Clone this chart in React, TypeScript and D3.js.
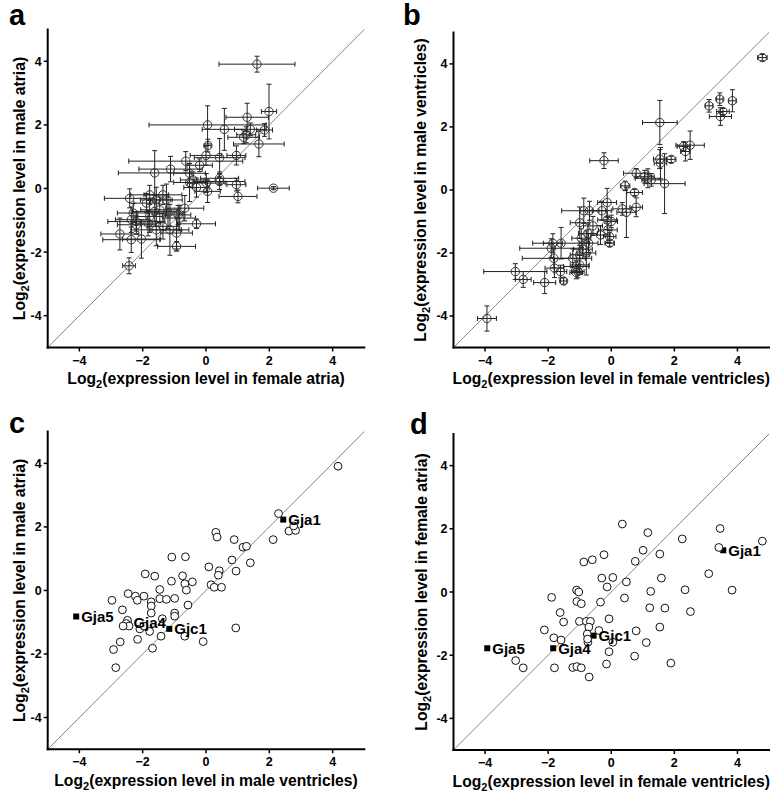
import React from "react";
import * as d3 from "d3";

// ---------- Panel a: female atria (x) vs male atria (y) ----------
const aX = [1.61, 1.99, 1.30, 0.58, 0.05, 1.40, 1.85, 1.19, 1.27, 1.67, 0.06, 0.96, 0.43, 0.0, -0.64, -1.12, -1.62, -0.2, -0.52, -0.41, -0.52, -0.3, 0.01, 0.43, 0.43, 0.96, 0.05, 1.01, 2.13, -2.41, -1.78, -1.57, -1.36, -1.25, -1.88, -1.46, -1.62, -0.67, -1.2, -2.3, -1.78, -0.88, -2.36, -2.2, -1.83, -1.36, -0.3, -1.14, -2.72, -2.36, -2.04, -0.93, -0.93, -2.43, -1.57, -0.83, -2.2];
const aY = [3.91, 2.42, 2.24, 1.86, 2.0, 1.86, 1.84, 1.61, 1.69, 1.40, 1.35, 1.04, 0.97, 1.04, 0.86, 0.61, 0.49, 0.73, 0.48, 0.27, 0.19, 0.03, 0.17, 0.32, 0.22, 0.12, -0.09, -0.25, 0.01, -0.31, -0.2, -0.36, -0.2, -0.36, -0.46, -0.67, -0.72, -0.62, -0.77, -0.77, -0.88, -0.83, -0.98, -1.14, -1.09, -1.19, -1.11, -1.3, -1.43, -1.61, -1.59, -1.4, -1.82, -2.43, -1.3, -0.93, -1.04];
const aXErr = [1.2, 0.24, 0.67, 0.7, 1.85, 0.5, 0.25, 0.5, 0.3, 0.8, 0.1, 0.3, 0.8, 0.5, 1.8, 1.0, 1.15, 0.4, 0.5, 0.4, 0.5, 0.4, 0.6, 0.6, 0.8, 0.3, 0.4, 0.6, 0.5, 0.8, 0.6, 0.5, 0.6, 0.5, 0.4, 0.6, 0.7, 0.6, 0.5, 0.5, 0.4, 0.4, 0.5, 0.6, 0.4, 0.5, 0.6, 0.6, 0.6, 0.9, 0.6, 0.5, 0.6, 0.2, 0.8, 0.5, 0.9];
const aYErr = [0.25, 0.86, 0.44, 0.66, 0.6, 0.2, 0.2, 0.2, 0.25, 0.4, 0.2, 0.3, 0.6, 0.3, 0.3, 0.4, 0.7, 0.2, 0.3, 0.25, 0.6, 0.3, 0.3, 0.2, 0.25, 0.2, 0.35, 0.2, 0.05, 0.3, 0.3, 0.4, 0.3, 0.5, 0.3, 0.4, 0.3, 0.4, 0.5, 0.3, 0.5, 0.3, 0.4, 0.3, 0.4, 0.4, 0.15, 0.8, 0.5, 0.4, 0.6, 0.5, 0.15, 0.25, 0.5, 0.4, 0.3];

// ---------- Panel b: female ventricles (x) vs male ventricles (y) ----------
const bX = [4.79, 3.44, 3.1, 3.84, 3.54, 3.46, 1.54, 2.5, 2.29, 2.35, 1.54, 1.9, 1.56, -0.23, 1.06, 1.16, 1.27, 0.79, 1.69, 0.44, 0.74, 0.79, 0.35, 0.48, -0.13, -0.87, -0.69, -0.3, -0.13, 0.0, -1.0, -0.58, -0.11, -0.74, -0.34, -0.05, -0.95, -0.72, -0.05, -1.59, -1.85, -1.9, -0.9, -0.79, -1.0, -1.22, -1.82, -1.0, -1.11, -1.8, -1.61, -1.11, -3.04, -2.79, -2.11, -1.51, -3.94, -1.06];
const bY = [4.2, 2.88, 2.67, 2.83, 2.49, 2.33, 2.14, 1.42, 1.38, 1.22, 0.98, 0.97, 0.85, 0.93, 0.42, 0.37, 0.32, 0.53, 0.2, 0.13, -0.08, -0.55, -0.6, -0.71, -0.4, -0.66, -0.66, -0.66, -0.95, -1.0, -1.04, -1.14, -1.27, -1.38, -1.43, -1.48, -1.53, -1.69, -1.69, -1.69, -1.69, -1.85, -1.88, -2.0, -2.06, -2.17, -2.17, -2.38, -2.43, -2.48, -2.59, -2.62, -2.59, -2.84, -2.94, -2.89, -4.08, -2.59];
const bXErr = [0.15, 0.1, 0.12, 0.12, 0.2, 0.35, 0.55, 0.45, 0.2, 0.15, 0.2, 0.15, 0.2, 0.45, 0.3, 0.4, 0.3, 0.4, 0.65, 0.15, 0.25, 0.2, 0.3, 0.3, 0.3, 0.7, 0.3, 0.3, 0.3, 0.2, 0.3, 0.3, 0.3, 0.3, 0.3, 0.2, 0.3, 0.3, 0.15, 0.9, 0.3, 1.0, 0.3, 0.3, 0.3, 0.6, 1.0, 0.3, 0.4, 0.3, 0.2, 0.2, 1.0, 0.25, 0.35, 0.1, 0.3, 0.2];
const bYErr = [0.1, 0.2, 0.2, 0.35, 0.1, 0.28, 0.7, 0.45, 0.15, 0.3, 0.3, 0.1, 0.5, 0.25, 0.2, 0.3, 0.2, 0.15, 0.95, 0.15, 0.1, 0.3, 0.2, 0.8, 0.45, 0.4, 0.3, 0.3, 0.3, 0.2, 0.5, 0.3, 0.4, 0.3, 0.3, 0.2, 0.3, 0.3, 0.1, 0.5, 0.3, 0.3, 0.3, 0.7, 0.3, 0.3, 0.3, 0.3, 0.2, 0.3, 0.2, 0.2, 0.25, 0.25, 0.35, 0.1, 0.4, 0.2];

// ---------- Panel c: male ventricles (x) vs male atria (y) ----------
const cX = [4.17, 2.29, 2.62, 2.83, 2.77, 2.12, 0.31, 0.35, 0.89, 1.17, 1.28, 1.4, 0.82, 0.95, 0.42, 0.39, 0.09, 0.16, 0.26, 0.49, -1.08, -0.65, -0.74, -0.67, -0.62, -0.43, -1.09, -1.62, -1.92, -1.46, -1.46, -1.25, -0.99, -0.57, -1.96, -2.23, -2.46, -2.17, -2.97, -2.64, -1.73, -1.73, -1.73, -0.99, -0.99, -1.38, -2.48, -2.52, -2.43, -2.62, -2.09, -1.96, -1.78, -1.42, -0.67, -2.16, -2.71, -2.92, -1.69, -0.09, 0.94, -2.85];
const cY = [3.91, 2.42, 1.87, 1.89, 2.03, 1.6, 1.83, 1.68, 1.6, 1.36, 1.39, 0.87, 0.96, 0.61, 0.62, 0.48, 0.74, 0.18, 0.1, 0.1, 1.05, 1.06, 0.46, 0.21, 0.01, 0.27, 0.29, 0.45, 0.52, 0.03, -0.26, -0.28, -0.25, -0.46, -0.18, -0.18, -0.1, -0.31, -0.31, -0.61, -0.36, -0.49, -0.71, -0.71, -0.81, -0.89, -0.94, -1.04, -1.12, -1.12, -1.21, -1.12, -1.29, -1.44, -1.44, -1.54, -1.62, -1.86, -1.82, -1.61, -1.18, -2.43];
const cGenes = ["Gja1", "Gja5", "Gja4", "Gjc1"];
const cGeneX = [2.44, -4.1, -2.45, -1.16];
const cGeneY = [2.23, -0.82, -1.0, -1.21];

// ---------- Panel d: female ventricles (x) vs female atria (y) ----------
const dX = [0.35, 3.45, 2.25, 4.79, 1.16, 1.01, 1.54, -0.23, -0.6, -0.87, 0.76, 3.41, 3.09, -0.3, 0.05, 0.48, 1.59, -0.13, -1.1, -1.03, 1.25, 2.34, 3.83, -1.89, -1.09, -0.95, -0.34, 0.42, 1.22, 1.7, 2.51, -1.62, -1.51, -1.01, -0.79, -0.66, -0.07, -2.12, -0.71, -0.76, -0.39, 0.79, 1.54, -1.82, -1.59, -0.74, 0.05, 1.11, -0.07, -3.03, -2.79, -1.8, -1.22, -1.09, -0.95, -0.15, 0.74, 1.89, -0.7, -0.75];
const dY = [2.15, 2.01, 1.68, 1.61, 1.88, 1.32, 1.2, 1.18, 1.02, 0.95, 0.97, 1.41, 0.58, 0.44, 0.46, 0.32, 0.44, 0.16, 0.06, 0.0, 0.02, 0.07, 0.06, -0.17, -0.3, -0.37, -0.32, -0.19, -0.5, -0.51, -0.62, -0.65, -0.95, -0.93, -0.93, -0.93, -0.85, -1.2, -1.11, -1.33, -1.22, -1.23, -1.11, -1.45, -1.52, -1.59, -1.59, -1.6, -1.89, -2.17, -2.4, -2.4, -2.39, -2.36, -2.4, -2.28, -2.03, -2.25, -2.69, -1.49];
const dGenes = ["Gja1", "Gja5", "Gja4", "Gjc1"];
const dGeneX = [3.55, -3.93, -1.84, -0.56];
const dGeneY = [1.32, -1.78, -1.78, -1.38];

const tickValues = [-4, -2, 0, 2, 4];
const FONT = "'Liberation Sans', Arial, Helvetica, sans-serif";

type PanelProps = {
  letter: string;
  letterX: number;
  letterY: number;
  xRange: [number, number];
  yRange: [number, number];
  xs: number[];
  ys: number[];
  xErr?: number[];
  yErr?: number[];
  genes?: string[];
  geneX?: number[];
  geneY?: number[];
  xTitle: string;
  yTitle: string;
  yTitleX: number;
  xTitleOffset: number;
};

function Title({ x, y, text, rotate }: { x: number; y: number; text: string; rotate?: boolean }) {
  return (
    <text
      x={x}
      y={y}
      textAnchor="middle"
      fontFamily={FONT}
      fontWeight="bold"
      fontSize={15.7}
      transform={rotate ? `rotate(-90 ${x} ${y})` : undefined}
    >
      Log
      <tspan fontSize={11} dy={4}>2</tspan>
      <tspan dy={-4}>{`(${text})`}</tspan>
    </text>
  );
}

function Panel(p: PanelProps) {
  const x = d3.scaleLinear().domain([-5, 5]).range(p.xRange);
  const y = d3.scaleLinear().domain([-5, 5]).range(p.yRange);
  const x0 = p.xRange[0];
  const y0 = p.yRange[0];
  const cap = 2.5;
  const hasErr = !!p.xErr;
  return (
    <g>
      <text x={p.letterX} y={p.letterY} fontFamily={FONT} fontWeight="bold" fontSize={29}>
        {p.letter}
      </text>
      {/* identity line */}
      <line x1={x(-5)} y1={y(-5)} x2={x(5)} y2={y(5)} stroke="#555" strokeWidth={0.7} />
      {/* error bars */}
      {hasErr &&
        p.xs.map((v, i) => {
          const cx = x(v);
          const cy = y(p.ys[i]);
          const xl = x(v - p.xErr![i]);
          const xr = x(v + p.xErr![i]);
          const yt = y(p.ys[i] + p.yErr![i]);
          const yb = y(p.ys[i] - p.yErr![i]);
          return (
            <g key={"e" + i} stroke="#222" strokeWidth={1}>
              <line x1={xl} y1={cy} x2={xr} y2={cy} />
              <line x1={xl} y1={cy - cap} x2={xl} y2={cy + cap} />
              <line x1={xr} y1={cy - cap} x2={xr} y2={cy + cap} />
              <line x1={cx} y1={yt} x2={cx} y2={yb} />
              <line x1={cx - cap} y1={yt} x2={cx + cap} y2={yt} />
              <line x1={cx - cap} y1={yb} x2={cx + cap} y2={yb} />
            </g>
          );
        })}
      {/* gene squares (under circles) */}
      {p.genes &&
        p.genes.map((g, i) => (
          <rect key={"s" + g} x={x(p.geneX![i]) - 3} y={y(p.geneY![i]) - 3} width={6} height={6} fill="#000" />
        ))}
      {/* points */}
      {p.xs.map((v, i) => (
        <circle
          key={"c" + i}
          cx={x(v)}
          cy={y(p.ys[i])}
          r={hasErr ? 4.2 : 3.9}
          fill={hasErr ? "none" : "#fff"}
          stroke={hasErr ? "#333" : "#111"}
          strokeWidth={1}
        />
      ))}
      {/* gene labels */}
      {p.genes &&
        p.genes.map((g, i) => (
          <text
            key={"t" + g}
            x={x(p.geneX![i]) + 5}
            y={y(p.geneY![i]) + 5.5}
            fontFamily={FONT}
            fontWeight="bold"
            fontSize={15}
          >
            {g}
          </text>
        ))}
      {/* axes */}
      <line x1={x0} y1={y(5) - 1} x2={x0} y2={y0 + 1} stroke="#000" strokeWidth={2} />
      <line x1={x0 - 1} y1={y0} x2={x(5) + 1} y2={y0} stroke="#000" strokeWidth={2} />
      {tickValues.map((t) => (
        <g key={"xt" + t}>
          <line x1={x(t)} y1={y0} x2={x(t)} y2={y0 + 4} stroke="#000" strokeWidth={1.5} />
          <text x={x(t)} y={y0 + 17} textAnchor="middle" fontFamily={FONT} fontWeight="bold" fontSize={12.5}>
            {d3.format("")(t).replace("-", "-")}
          </text>
        </g>
      ))}
      {tickValues.map((t) => (
        <g key={"yt" + t}>
          <line x1={x0 - 4} y1={y(t)} x2={x0} y2={y(t)} stroke="#000" strokeWidth={1.5} />
          <text x={x0 - 6} y={y(t) + 4.5} textAnchor="end" fontFamily={FONT} fontWeight="bold" fontSize={12.5}>
            {String(t)}
          </text>
        </g>
      ))}
      <Title x={(p.xRange[0] + p.xRange[1]) / 2} y={y0 + p.xTitleOffset} text={p.xTitle} />
      <Title x={p.yTitleX} y={(p.yRange[0] + p.yRange[1]) / 2} text={p.yTitle} rotate />
    </g>
  );
}

export default function App() {
  return (
    <svg
      width={781}
      height={798}
      style={{ position: "absolute", left: 0, top: 0, background: "#fff" }}
    >
      <rect width={781} height={798} fill="#fff" />
      <Panel
        letter="a"
        letterX={9}
        letterY={25}
        xRange={[47.7, 364.3]}
        yRange={[347.5, 29.5]}
        xs={aX}
        ys={aY}
        xErr={aXErr}
        yErr={aYErr}
        xTitle="expression level in female atria"
        yTitle="expression level in male atria"
        yTitleX={25}
        xTitleOffset={36}
      />
      <Panel
        letter="b"
        letterX={403}
        letterY={25}
        xRange={[453.5, 769]}
        yRange={[347.5, 32.4]}
        xs={bX}
        ys={bY}
        xErr={bXErr}
        yErr={bYErr}
        xTitle="expression level in female ventricles"
        yTitle="expression level in male ventricles"
        yTitleX={426}
        xTitleOffset={36}
      />
      <Panel
        letter="c"
        letterX={9}
        letterY={433}
        xRange={[47.7, 364.3]}
        yRange={[749.3, 431.6]}
        xs={cX}
        ys={cY}
        genes={cGenes}
        geneX={cGeneX}
        geneY={cGeneY}
        xTitle="expression level in male ventricles"
        yTitle="expression level in male atria"
        yTitleX={25}
        xTitleOffset={37}
      />
      <Panel
        letter="d"
        letterX={410}
        letterY={434}
        xRange={[453.5, 769]}
        yRange={[750, 434]}
        xs={dX}
        ys={dY}
        genes={dGenes}
        geneX={dGeneX}
        geneY={dGeneY}
        xTitle="expression level in female ventricles"
        yTitle="expression level in female atria"
        yTitleX={427}
        xTitleOffset={37}
      />
    </svg>
  );
}
